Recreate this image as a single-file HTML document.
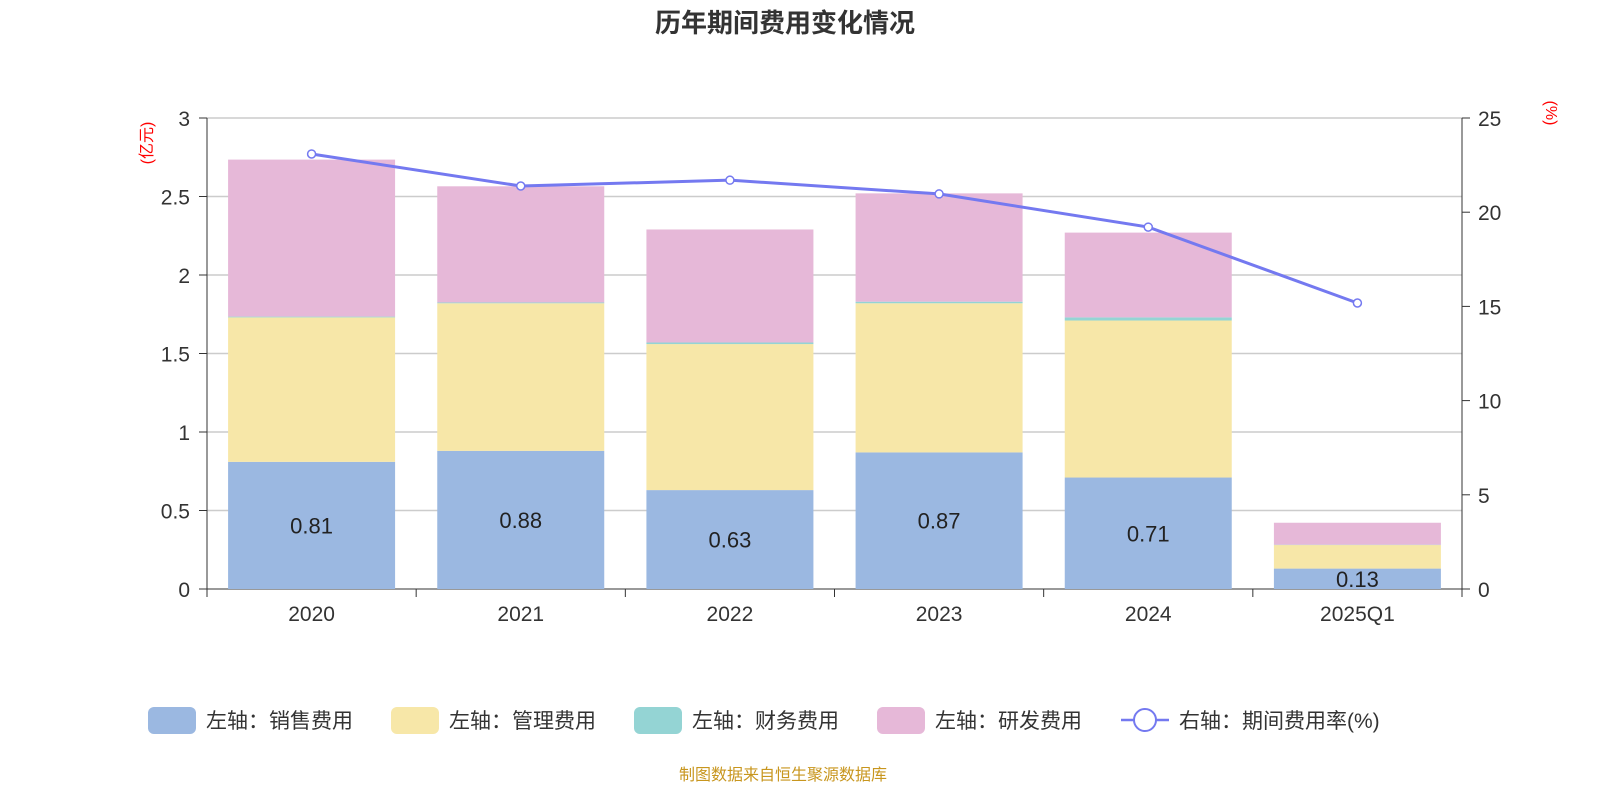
<!DOCTYPE html>
<html><head><meta charset="utf-8"><style>
body{margin:0;background:#fff;font-family:"Liberation Sans","Noto Sans CJK SC",sans-serif}
</style></head><body>
<svg id="c" width="1600" height="800" xmlns="http://www.w3.org/2000/svg" font-family="Liberation Sans, Noto Sans CJK SC, sans-serif"></svg>
<script>
const categories=["2020","2021","2022","2023","2024","2025Q1"];
const sales=[0.81,0.88,0.63,0.87,0.71,0.13];
const mgmt=[0.92,0.94,0.93,0.95,1.00,0.15];
const finance=[0.005,0.005,0.01,0.01,0.02,0.002];
const rnd=[1.00,0.74,0.72,0.69,0.54,0.14];
const rate=[23.09,21.39,21.70,20.97,19.21,15.18];
const leftTicks=[0,0.5,1,1.5,2,2.5,3];
const rightTicks=[0,5,10,15,20,25];
const NS="http://www.w3.org/2000/svg";
const svg=document.getElementById('c');
const X0=207,X1=1462,Y0=589,Y1=118;
const band=(X1-X0)/categories.length;
const yL=v=>Y0-(v/3)*(Y0-Y1);
const yR=v=>Y0-(v/25)*(Y0-Y1);
const xC=i=>X0+band*(i+0.5);
function el(t,a,txt){const e=document.createElementNS(NS,t);for(const k in a)e.setAttribute(k,a[k]);if(txt!=null)e.textContent=txt;svg.appendChild(e);return e;}
let e=el('text',{x:785,y:32,'text-anchor':'middle','font-size':26,'font-weight':'bold',fill:'#333'},'历年期间费用变化情况');

leftTicks.forEach(v=>{
 if(v>0){const g=el('line',{x1:X0,x2:X1,y1:yL(v),y2:yL(v),stroke:'#ccc','stroke-width':1.5});}
 const t=el('text',{x:190,y:yL(v)+8,'text-anchor':'end','font-size':21,fill:'#333'},String(v));
 
 el('line',{x1:199,x2:X0,y1:yL(v),y2:yL(v),stroke:'#333'});
});
rightTicks.forEach(v=>{
 const t=el('text',{x:1478,y:yR(v)+8,'font-size':21,fill:'#333'},String(v));
 
 el('line',{x1:X1,x2:X1+8,y1:yR(v),y2:yR(v),stroke:'#333'});
});
el('line',{x1:X0,x2:X0,y1:Y1,y2:Y0,stroke:'#333'});
el('line',{x1:X1,x2:X1,y1:Y1,y2:Y0,stroke:'#333'});
el('line',{x1:X0,x2:X1,y1:Y0,y2:Y0,stroke:'#333'});
e=el('text',{x:152,y:143,'font-size':16,fill:'red',transform:'rotate(-90 152 143)','text-anchor':'middle'},'(亿元)');

e=el('text',{x:1546,y:113,'font-size':16,fill:'red',transform:'rotate(90 1546 113)','text-anchor':'middle'},'(%)');

for(let i=0;i<=categories.length;i++)el('line',{x1:X0+band*i,x2:X0+band*i,y1:Y0,y2:Y0+8,stroke:'#333'});
const colors=['#9bb8e1','#f7e7a8','#94d4d4','#e6b8d8'];
const series=[sales,mgmt,finance,rnd];
const names=['sales','mgmt','finance','rnd'];
categories.forEach((c,i)=>{
 const t=el('text',{x:xC(i),y:621,'text-anchor':'middle','font-size':21,fill:'#333'},c);
 
 let base=0;const bw=167;
 series.forEach((s,k)=>{
  const r=el('rect',{x:xC(i)-bw/2,y:yL(base+s[i]),width:bw,height:yL(base)-yL(base+s[i]),fill:colors[k]});
  
  base+=s[i];
 });
 const lb=el('text',{x:xC(i),y:(yL(0)+yL(sales[i]))/2+8,'text-anchor':'middle','font-size':22,fill:'#222'},sales[i].toFixed(2));
 
});
const pts=rate.map((v,i)=>xC(i)+','+yR(v)).join(' ');
e=el('polyline',{points:pts,fill:'none',stroke:'#7479f0','stroke-width':3});

rate.forEach((v,i)=>{const p=el('circle',{cx:xC(i),cy:yR(v),r:4,fill:'#fff',stroke:'#7479f0','stroke-width':1.5});
 });
const leg=[['左轴：销售费用',148],['左轴：管理费用',391],['左轴：财务费用',634],['左轴：研发费用',877]];
leg.forEach((l,k)=>{
 const r=el('rect',{x:l[1],y:707,width:48,height:27,rx:6,fill:colors[k]});
 
 const t=el('text',{x:l[1]+58,y:728,'font-size':21,fill:'#333'},l[0]);
 
});
el('line',{x1:1121,x2:1169,y1:720,y2:720,stroke:'#7479f0','stroke-width':2.5});
e=el('circle',{cx:1145,cy:720,r:11,fill:'#fff',stroke:'#7479f0','stroke-width':2});

e=el('text',{x:1179,y:728,'font-size':21,fill:'#333'},'右轴：期间费用率(%)');

e=el('text',{x:783,y:780,'text-anchor':'middle','font-size':16,fill:'#c8961e'},'制图数据来自恒生聚源数据库');

</script>
</body></html>
